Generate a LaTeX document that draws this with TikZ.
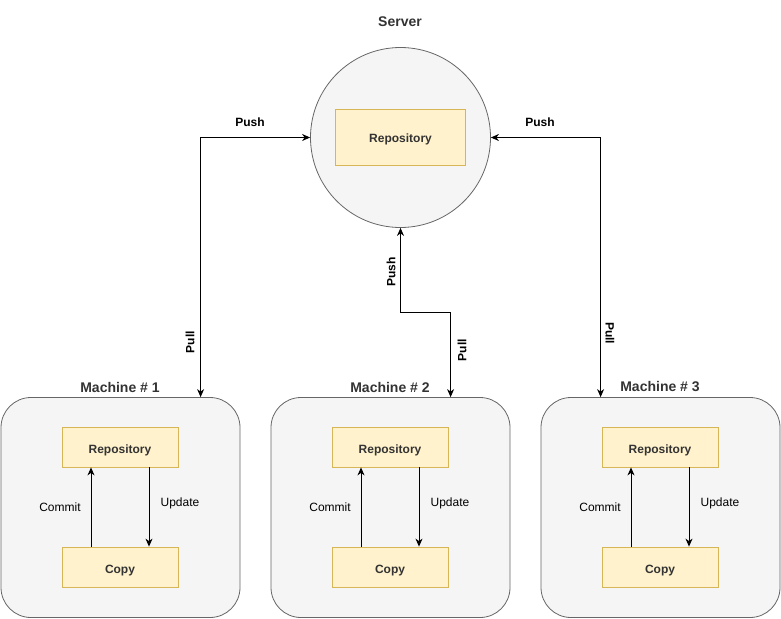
\documentclass[tikz,border=0pt]{standalone}
\usepackage{fontspec}
\setmainfont{Liberation Sans}
\usetikzlibrary{arrows.meta,calc}
\definecolor{yfill}{HTML}{FFF2CC}
\definecolor{ydraw}{HTML}{D6B656}
\definecolor{gfill}{HTML}{F5F5F5}
\definecolor{gdraw}{HTML}{666666}
\definecolor{tgray}{HTML}{333333}
\tikzset{
 yellowbox/.style={draw=ydraw, fill=yfill, line width=0.8pt, minimum width=116pt, minimum height=40pt, inner sep=0pt, text height=12.6pt, text depth=0pt, font=\fontsize{12}{14}\selectfont\bfseries, text=tgray},
 machinebox/.style={draw=gdraw, fill=gfill, line width=0.8pt, rounded corners=30pt, minimum width=239pt, minimum height=220pt, inner sep=0pt},
 title/.style={font=\fontsize{14}{16}\selectfont\bfseries, text=tgray},
 lbl/.style={font=\fontsize{12}{14}\selectfont\bfseries},
 plain/.style={font=\fontsize{12}{14}\selectfont},
 tip/.tip={Stealth[length=8pt,width=7pt,inset=2.5pt]},
 conn/.style={line width=1pt, -tip},
 dconn/.style={line width=1pt, tip-tip},
}
\begin{document}
\begin{tikzpicture}[x=1pt,y=-1pt]
\useasboundingbox (0,0) rectangle (781,618);
% server
\node[title] (stitle) at (400,22) {Server};
\node[circle, draw=gdraw, fill=gfill, line width=0.8pt, minimum size=180pt, inner sep=0pt] (server) at (400.5,137.5) {};
\node[yellowbox, minimum width=130pt, minimum height=56pt, text height=11pt] (srepo) at (400.5,137) {Repository};
% machines
\foreach \i in {1,2,3}{
  \pgfmathsetmacro\o{(\i-1)*270}
  \node[machinebox] (m\i) at (\o+120.5,507.5) {};
  \node[title] (t\i) at (\o+120,387) {Machine \# \i};
  \node[yellowbox] (r\i) at (\o+120,447) {Repository};
  \node[yellowbox] (c\i) at (\o+120,567) {Copy};
  \draw[conn] ($(c\i.north)+(-29,0)$) -- ($(r\i.south)+(-29,0)$);
  \draw[conn] ($(r\i.south)+(29,0)$) -- ($(c\i.north)+(29,0)$);
  \node[plain] (cm\i) at (\o+60,507) {Commit};
  \node[plain] (up\i) at (\o+180,503) {Update};
}
% connectors
\draw[dconn] (server.west) -| ($(m1.north west)+(200,0)$);
\draw[dconn] (server.east) -| ($(m3.north west)+(60,0)$);
\draw[dconn] (server.south) -- ++(0,84.5) -| ($(m2.north west)+(180,0)$);
% labels
\node[lbl] (push1) at (250,122) {Push};
\node[lbl] (push3) at (540,122) {Push};
\node[lbl, rotate=90] (push2) at (391,272) {Push};
\node[lbl, rotate=90] (pull1) at (190,342) {Pull};
\node[lbl, rotate=90] (pull2) at (462,350) {Pull};
\node[lbl, rotate=-90] (pull3) at (610,333) {Pull};
\end{tikzpicture}
\end{document}
